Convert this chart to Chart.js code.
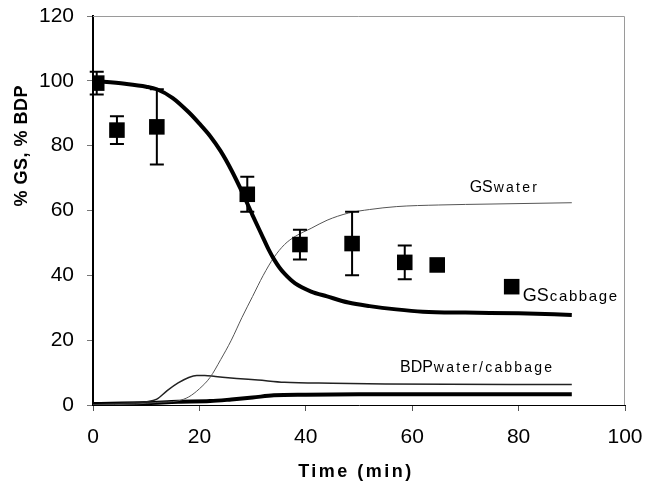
<!DOCTYPE html>
<html>
<head>
<meta charset="utf-8">
<script src="https://cdn.jsdelivr.net/npm/chart.js@4/dist/chart.umd.min.js"></script>
<style>
  html, body { margin: 0; padding: 0; background: #fff; }
  #wrap { width: 646px; height: 494px; position: relative; }
</style>
</head>
<body>
<div id="wrap"><canvas id="c" width="646" height="494"></canvas></div>
<script>
// ---- data ----
const xTicks = [0, 20, 40, 60, 80, 100];
const yTicks = [0, 20, 40, 60, 80, 100, 120];

// measured GS in cabbage (squares with error bars)
const measT   = [0.7, 4.5, 12, 29, 38.9, 48.7, 58.6, 64.7, 78.7];
const measGS  = [99.3, 84.8, 85.8, 65, 49.5, 49.8, 44, 43.2, 36.5];
const measErr = [3.5, 4.3, 11.6, 5.4, 4.6, 9.8, 5.2, 0, 0];

// model curve GS cabbage (thick)
const gsCabT = [0, 6, 10, 12, 15, 18, 20, 22, 24, 26, 28, 30, 32, 33, 34, 35, 36, 38, 41, 44, 48, 52, 57, 62, 70, 80, 90];
const gsCab  = [100, 99.1, 98.2, 97.4, 94.7, 90.3, 86.8, 83, 78.3, 72.5, 65.8, 58.5, 51.5, 48, 45, 42.5, 40.5, 37.5, 35, 33.5, 31.6, 30.5, 29.5, 28.8, 28.5, 28.3, 27.8];

// model curve GS water (thin)
const gsWatT = [0, 8, 12, 16, 18, 20, 22, 24, 26, 28, 30, 32, 34, 36, 38, 41, 44, 48, 52, 57, 65, 75, 90];
const gsWat  = [0, 0.3, 0.8, 1.3, 2.5, 5, 8.5, 14, 20, 27, 33.5, 40, 45.5, 49.5, 52, 54.5, 57, 59.2, 60.3, 61.2, 61.7, 62, 62.4];

// model curve BDP water (thin)
const bdpWatT = [0, 5, 10, 12, 14, 16, 18, 19.5, 21, 23, 27, 31, 36, 45, 55, 90];
const bdpWat  = [0, 0.5, 1, 1.8, 4.5, 6.8, 8.5, 9.1, 9.1, 8.8, 8.2, 7.7, 7, 6.7, 6.5, 6.3];

// model curve BDP cabbage (thick)
const bdpCabT = [0, 10, 16, 22, 26, 30, 34, 40, 50, 90];
const bdpCab  = [0.3, 0.6, 1, 1.2, 1.7, 2.3, 3, 3.2, 3.3, 3.3];

const pts = (xs, ys) => xs.map((x, i) => ({ x: x, y: ys[i] }));

const FONT = '"Liberation Sans", Arial, Helvetica, sans-serif';

const errorBars = {
  id: 'errorBars',
  afterDatasetsDraw(chart) {
    const ctx = chart.ctx, xs = chart.scales.x, ys = chart.scales.y;
    ctx.save();
    ctx.strokeStyle = '#000';
    ctx.lineWidth = 2;
    measT.forEach((t, i) => {
      if (!measErr[i]) return;
      const px = xs.getPixelForValue(t);
      const top = ys.getPixelForValue(measGS[i] + measErr[i]);
      const bot = ys.getPixelForValue(measGS[i] - measErr[i]);
      ctx.beginPath();
      ctx.moveTo(px, top); ctx.lineTo(px, bot);
      ctx.moveTo(px - 7, top); ctx.lineTo(px + 7, top);
      ctx.moveTo(px - 7, bot); ctx.lineTo(px + 7, bot);
      ctx.stroke();
    });
    ctx.restore();
  }
};

const frameAndText = {
  id: 'frameAndText',
  beforeDatasetsDraw(chart) {
    const ctx = chart.ctx, a = chart.chartArea;
    ctx.save();
    ctx.strokeStyle = '#9a9a9a';
    ctx.lineWidth = 1;
    ctx.beginPath();
    ctx.moveTo(a.left, a.top + 0.5); ctx.lineTo(a.right - 0.5, a.top + 0.5);
    ctx.lineTo(a.right - 0.5, a.bottom);
    ctx.stroke();
    ctx.restore();
  },
  afterDraw(chart) {
    const ctx = chart.ctx, xs = chart.scales.x, ys = chart.scales.y, a = chart.chartArea;
    ctx.save();
    ctx.fillStyle = '#000';
    ctx.textBaseline = 'alphabetic';
    ctx.textAlign = 'left';
    function pair(big, bigSize, small, smallSize, spacing, x, y) {
      ctx.font = 'normal ' + bigSize + 'px ' + FONT;
      ctx.letterSpacing = '0px';
      ctx.fillText(big, x, y);
      const w = ctx.measureText(big).width;
      ctx.font = 'normal ' + smallSize + 'px ' + FONT;
      ctx.letterSpacing = spacing + 'px';
      ctx.fillText(small, x + w + 1, y);
    }
    pair('GS', 16, 'water', 14, 2.2, xs.getPixelForValue(70.8), ys.getPixelForValue(65.6));
    pair('GS', 18, 'cabbage', 15, 1.6, xs.getPixelForValue(80.8), ys.getPixelForValue(32.2));
    pair('BDP', 16, 'water/cabbage', 14, 2.2, xs.getPixelForValue(57.7), ys.getPixelForValue(10.2));

    // y-axis title
    ctx.save();
    ctx.translate(22, ys.getPixelForValue(80));
    ctx.rotate(-Math.PI / 2);
    ctx.textAlign = 'center';
    ctx.textBaseline = 'middle';
    ctx.font = 'bold 18px ' + FONT;
    ctx.letterSpacing = '0.5px';
    ctx.fillText('% GS, % BDP', 0, 0);
    ctx.restore();

    // x-axis title
    ctx.textAlign = 'center';
    ctx.textBaseline = 'middle';
    ctx.font = 'bold 18px ' + FONT;
    ctx.letterSpacing = '2.5px';
    ctx.fillText('Time (min)', (a.left + a.right) / 2 - 3, 472);
    ctx.restore();
  }
};

new Chart(document.getElementById('c'), {
  type: 'scatter',
  data: {
    datasets: [
      { label: 'GS cabbage (model)', data: pts(gsCabT, gsCab), showLine: true, borderColor: '#000', borderWidth: 4, pointRadius: 0, cubicInterpolationMode: 'monotone', order: 2 },
      { label: 'GS water (model)', data: pts(gsWatT, gsWat), showLine: true, borderColor: '#555', borderWidth: 1, pointRadius: 0, cubicInterpolationMode: 'monotone', order: 3 },
      { label: 'BDP water', data: pts(bdpWatT, bdpWat), showLine: true, borderColor: '#222', borderWidth: 1.5, pointRadius: 0, cubicInterpolationMode: 'monotone', order: 4 },
      { label: 'BDP cabbage', data: pts(bdpCabT, bdpCab), showLine: true, borderColor: '#000', borderWidth: 4, pointRadius: 0, cubicInterpolationMode: 'monotone', order: 5 },
      { label: 'GS cabbage (measured)', data: pts(measT, measGS), showLine: false, pointStyle: 'rect', pointRadius: 11, pointBackgroundColor: '#000', pointBorderWidth: 0, backgroundColor: '#000', order: 1 }
    ]
  },
  options: {
    responsive: false,
    animation: false,
    events: [],
    layout: { padding: { top: 16, right: 21, left: 0, bottom: 0 } },
    plugins: { legend: { display: false }, tooltip: { enabled: false } },
    scales: {
      x: {
        type: 'linear', min: 0, max: 100,
        afterBuildTicks(s) { s.ticks = xTicks.map(v => ({ value: v })); },
        afterFit(s) { s.height = 89; s.paddingLeft = 0; s.paddingRight = 0; },
        border: { display: true, color: '#000', width: 1 },
        grid: { display: true, drawOnChartArea: false, drawTicks: true, tickLength: 6, color: '#555' },
        ticks: { color: '#000', font: { family: FONT, size: 21 }, padding: 14, maxRotation: 0 },
        title: { display: false }
      },
      y: {
        type: 'linear', min: 0, max: 120,
        afterBuildTicks(s) { s.ticks = yTicks.map(v => ({ value: v })); },
        afterFit(s) { s.width = 93; s.paddingTop = 0; s.paddingBottom = 0; },
        border: { display: true, color: '#000', width: 2 },
        grid: { display: true, drawOnChartArea: false, drawTicks: true, tickLength: 6, color: '#777' },
        ticks: { color: '#000', font: { family: FONT, size: 21 }, padding: 13 }
      }
    }
  },
  plugins: [errorBars, frameAndText]
});
</script>
</body>
</html>
